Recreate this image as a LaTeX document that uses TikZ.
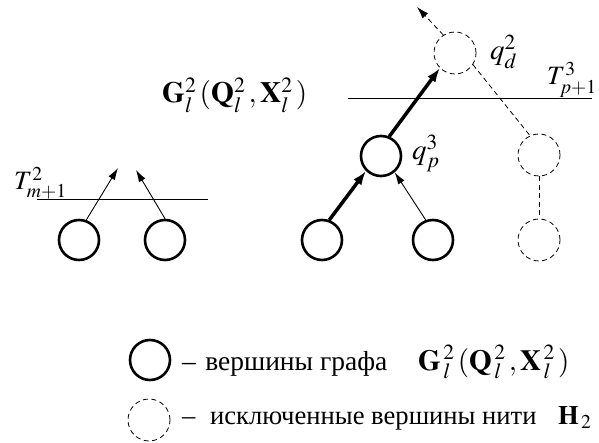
\documentclass[tikz,border=0pt]{standalone}
\usepackage{mathptmx}
\usepackage[no-math]{fontspec}
\setmainfont{Liberation Serif}
\usepackage{tikz}
\usetikzlibrary{positioning, arrows.meta, calc}

\begin{document}
\begin{tikzpicture}[
    x=1pt, y=-1pt,
    every node/.style={font=\fontsize{26.6}{30}\selectfont},
    vert/.style={circle, draw, line width=2.6pt, minimum size=40pt, inner sep=0pt},
    gone/.style={circle, draw, dash pattern=on 5pt off 3.5pt, line width=0.8pt, minimum size=42pt, inner sep=0pt},
    thin arrow/.style={line width=0.9pt, -{Latex[length=12pt, width=7.5pt]}},
    thick arrow/.style={line width=3.5pt, -{Latex[length=14pt, width=10pt]}},
    gone line/.style={dash pattern=on 5pt off 3.5pt, line width=0.8pt},
    level/.style={line width=1pt},
    mark text/.style={anchor=base west, inner sep=0pt, font=\fontsize{26.5}{30}\selectfont}
]
    \useasboundingbox (0,0) rectangle (599,443);

    % left group
    \node[vert] (l1) at (79,240) {};
    \node[vert] (l2) at (165,240) {};
    \coordinate (l1up) at (118,168);
    \coordinate (l2up) at (136,170);
    \draw[level] (37,200) -- (208,200);
    \node[mark text] (tm) at (14,190) {$T^{2}_{m+1}$};
    \draw[thin arrow] (l1.70) -- (l1up);
    \draw[thin arrow] (l2.90) -- (l2up);

    % graph label
    \node[anchor=base west, inner sep=0pt, font=\fontsize{29.4}{33}\selectfont] (glabel) at (162,103)
        {$\mathbf{G}^{2}_{l}\,(\mathbf{Q}^{2}_{l}\,,\mathbf{X}^{2}_{l}\,)$};

    % right group
    \node[vert] (b1) at (322,240) {};
    \node[vert] (b2) at (433,240) {};
    \node[vert] (qp) at (381,156) {};
    \node[gone] (qd) at (455,53) {};
    \node[gone] (r1) at (539,155) {};
    \node[gone] (r2) at (539,240) {};
    \coordinate (qdup) at (417,7);
    \draw[level] (348,99) -- (592,99);
    \node[mark text] (tp) at (547,85) {$T^{3}_{p+1}$};
    \node[mark text, font=\fontsize{29}{32}\selectfont] (qdl) at (490,60) {$q^{2}_{d}$};
    \node[mark text, font=\fontsize{29}{32}\selectfont] (qpl) at (412,160) {$q^{3}_{p}$};

    \draw[thick arrow] (b1.70) -- (qp.-135);
    \draw[thin arrow] (b2.110) -- (qp.-50);
    \draw[thick arrow] (qp.67) -- (qd.225);
    \draw[gone line, -{Latex[length=12pt, width=7.5pt]}] (qd.123) -- (qdup);
    \draw[gone line] (qd.-33) -- (r1.115);
    \draw[gone line] (r1) -- (r2);

    % legend
    \node[vert] (key1) at (150,360) {};
    \node[gone] (key2) at (149,420) {};
    \node[anchor=base west, inner sep=0pt, font=\fontsize{27.5}{31}\selectfont] (txt1) at (182,370)
        {–\hspace{0.34em}вершины графа};
    \node[anchor=base west, inner sep=0pt, font=\fontsize{29.2}{33}\selectfont] (gkey) at (418,370)
        {$\mathbf{G}^{\,2}_{\,l}\,(\mathbf{Q}^{\,2}_{\,l}\,,\mathbf{X}^{\,2}_{\,l}\,)$};
    \node[anchor=base west, inner sep=0pt] (txt2) at (182,424)
        {–\hspace{0.55em}исключенные вершины нити};
    \node[anchor=base west, inner sep=0pt] (hkey) at (558,424) {$\mathbf{H}_{\,2}$};
\end{tikzpicture}
\end{document}
